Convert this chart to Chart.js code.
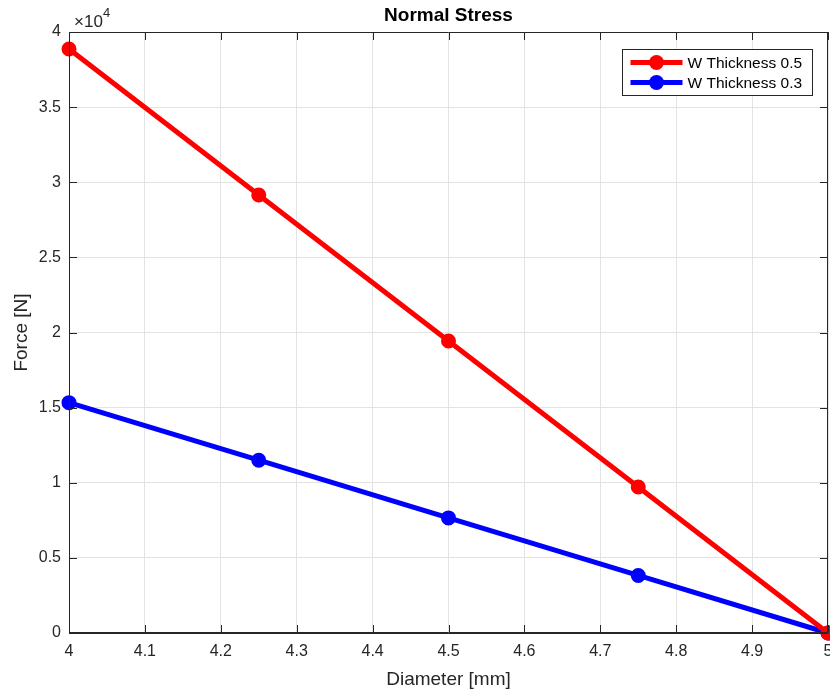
<!DOCTYPE html>
<html>
<head>
<meta charset="utf-8">
<script src="https://cdn.jsdelivr.net/npm/chart.js@4/dist/chart.umd.min.js"></script>
<style>
  html, body { margin: 0; padding: 0; background: #fff; overflow: hidden; }
  #wrap { width: 830px; height: 691px; }
</style>
</head>
<body>
<div id="wrap"><canvas id="stressChart"></canvas></div>
<script>
const diameters = [4, 4.25, 4.5, 4.75, 5];
const forceThick05 = [38870, 29150, 19430, 9720, 0];
const forceThick03 = [15330, 11500, 7660, 3830, 0];
const seriesNames = ['W Thickness 0.5', 'W Thickness 0.3'];
const xTicks = [4, 4.1, 4.2, 4.3, 4.4, 4.5, 4.6, 4.7, 4.8, 4.9, 5];
const yTicks = [0, 5000, 10000, 15000, 20000, 25000, 30000, 35000, 40000];

const FONT = 'Liberation Sans, Arial, sans-serif';
const INK = '#262626';

function pairs(xs, ys) {
  return xs.map((x, i) => ({ x: x, y: ys[i] }));
}

// box, inward ticks, title, exponent label and legend, MATLAB style
const matlabFrame = {
  id: 'matlabFrame',
  afterDraw(chart) {
    const c = chart.ctx;
    const a = chart.chartArea;
    const xs = chart.scales.x, ys = chart.scales.y;
    c.save();
    c.strokeStyle = INK;
    c.lineWidth = 1;
    c.beginPath();
    c.rect(a.left + 0.5, a.top + 0.5, a.right - a.left - 1, a.bottom - a.top - 1);
    c.stroke();
    c.beginPath();
    xTicks.forEach(v => {
      const p = Math.round(xs.getPixelForValue(v)) + 0.5;
      c.moveTo(p, a.bottom); c.lineTo(p, a.bottom - 8);
      c.moveTo(p, a.top); c.lineTo(p, a.top + 8);
    });
    yTicks.forEach(v => {
      const p = Math.round(ys.getPixelForValue(v)) + 0.5;
      c.moveTo(a.left, p); c.lineTo(a.left + 8, p);
      c.moveTo(a.right, p); c.lineTo(a.right - 8, p);
    });
    c.stroke();

    // title
    c.fillStyle = '#000';
    c.font = 'bold 19px ' + FONT;
    c.textAlign = 'center';
    c.textBaseline = 'middle';
    c.fillText('Normal Stress', (a.left + a.right) / 2, 16);

    // exponent
    c.fillStyle = INK;
    c.textAlign = 'left';
    c.textBaseline = 'alphabetic';
    c.font = '17px ' + FONT;
    c.fillText('\u00d710', a.left + 5, 27);
    c.font = '13px ' + FONT;
    c.fillText('4', a.left + 34, 17);

    // legend
    const lx = 622.5, ly = 49.5, lw = 190, lh = 46;
    c.fillStyle = '#fff';
    c.fillRect(lx, ly, lw, lh);
    c.strokeStyle = INK;
    c.lineWidth = 1;
    c.strokeRect(lx, ly, lw, lh);
    chart.data.datasets.forEach((ds, i) => {
      const yy = ly + 13 + i * 20;
      c.strokeStyle = ds.borderColor;
      c.lineWidth = 5;
      c.beginPath();
      c.moveTo(lx + 8, yy); c.lineTo(lx + 60, yy);
      c.stroke();
      c.fillStyle = ds.borderColor;
      c.beginPath();
      c.arc(lx + 34, yy, 7.5, 0, Math.PI * 2);
      c.fill();
      c.fillStyle = '#000';
      c.font = '15.5px ' + FONT;
      c.textBaseline = 'middle';
      c.fillText(ds.label, lx + 65, yy + 1);
    });
    c.restore();
  }
};

new Chart(document.getElementById('stressChart'), {
  type: 'line',
  data: {
    datasets: [
      {
        label: seriesNames[0],
        data: pairs(diameters, forceThick05),
        borderColor: '#ff0000',
        backgroundColor: '#ff0000',
        borderWidth: 5,
        pointRadius: 6,
        pointBorderWidth: 3,
        clip: false
      },
      {
        label: seriesNames[1],
        data: pairs(diameters, forceThick03),
        borderColor: '#0000ff',
        backgroundColor: '#0000ff',
        borderWidth: 5,
        pointRadius: 6,
        pointBorderWidth: 3,
        clip: false
      }
    ]
  },
  options: {
    responsive: true,
    maintainAspectRatio: false,
    animation: false,
    layout: { autoPadding: false, padding: { top: 32, right: 2, left: 0, bottom: 0 } },
    plugins: {
      legend: { display: false },
      tooltip: { enabled: false }
    },
    scales: {
      x: {
        type: 'linear',
        min: 4, max: 5,
        afterFit(s) { s.height = 58; s.paddingLeft = 0; s.paddingRight = 0; },
        afterBuildTicks(s) { s.ticks = xTicks.map(v => ({ value: v })); },
        grid: { color: '#e3e3e3', drawTicks: false },
        border: { color: INK },
        ticks: {
          color: INK, padding: 9,
          font: { family: FONT, size: 16 },
          maxRotation: 0,
          callback: v => String(Math.round(v * 10) / 10)
        },
        title: {
          display: true, text: 'Diameter [mm]', color: INK,
          font: { family: FONT, size: 19 }, padding: { top: 2, bottom: 0 }
        }
      },
      y: {
        type: 'linear',
        min: 0, max: 40000,
        afterFit(s) { s.width = 69; s.paddingTop = 0; s.paddingBottom = 0; },
        afterBuildTicks(s) { s.ticks = yTicks.map(v => ({ value: v })); },
        grid: { color: '#e3e3e3', drawTicks: false },
        border: { color: INK },
        ticks: {
          color: INK, padding: 8,
          font: { family: FONT, size: 16 },
          callback: v => String(v / 10000)
        },
        title: {
          display: true, text: 'Force [N]', color: INK,
          font: { family: FONT, size: 19 }, padding: { top: 10, bottom: 0 }
        }
      }
    }
  },
  plugins: [matlabFrame]
});
</script>
</body>
</html>
